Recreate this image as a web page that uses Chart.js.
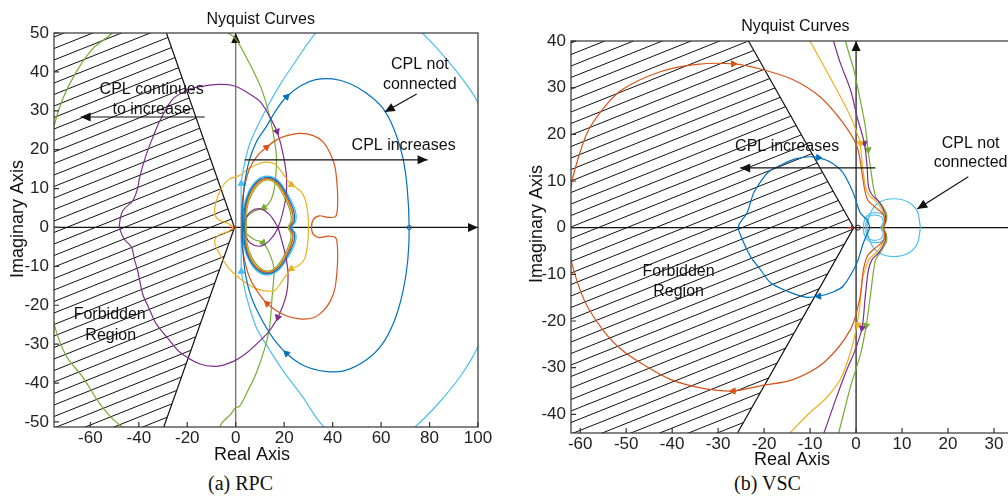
<!DOCTYPE html>
<html>
<head>
<meta charset="utf-8">
<script src="https://cdn.jsdelivr.net/npm/chart.js@4.4.0/dist/chart.umd.min.js"></script>
<style>
  html, body { margin: 0; padding: 0; background: #fff; overflow: hidden; width: 1008px; height: 502px; }
  #wrapA { position: absolute; left: 0; top: 0; width: 500px; height: 470px; }
  #wrapB { position: absolute; left: 520px; top: 0; width: 540px; height: 470px; }
  .cap { position: absolute; top: 472px; line-height: 24px; font: 20px 'Liberation Serif', 'Times New Roman', serif; color: #111; }
</style>
</head>
<body>
<div id="wrapA"><canvas id="rpc"></canvas></div>
<div id="wrapB"><canvas id="vsc"></canvas></div>
<div class="cap" style="left:208px">(a) RPC</div>
<div class="cap" style="left:734px">(b) VSC</div>

<script>
var FONT = "'Liberation Sans', Arial, Helvetica, sans-serif";
var C = { blue: '#0072BD', orange: '#D95319', yellow: '#EDB120', purple: '#7E2F8E', green: '#77AC30', cyan: '#4DBEEE' };

// ---------- (a) RPC ----------
var rpcXTicks = [-60, -40, -20, 0, 20, 40, 60, 80, 100];
var rpcYTicks = [-50, -40, -30, -20, -10, 0, 10, 20, 30, 40, 50];

var rpcBlue = [[2.8,0],[3,6],[3.6,11],[5.5,17],[8.5,22],[12.7,26],[16.5,30],[21,33.6],[27,36.5],[33,38],[40,38.2],[47,37],[54,34.5],[60.8,30.6],[65.5,25],[69,17.9],[70.8,10],[71.6,0],[71,-8.5],[69,-16.5],[65.5,-24],[60.5,-30],[54,-34],[45,-36.8],[36.8,-37],[28,-35.5],[21,-32.4],[15.5,-28.5],[11,-24],[6.5,-18],[4,-12],[3,-6],[2.8,0]];
var rpcOrange = [[2.3,0],[2.4,4.3],[3.5,10],[5.8,15.3],[9,18.5],[12.7,20.6],[16,22.2],[19.5,23.3],[26.4,24.2],[32,23.6],[36,22],[39,19],[41,15.5],[42,9.4],[42,5],[41.2,2.8],[38,2.6],[34.5,3],[32,2],[31.3,0],[32,-1.8],[34.5,-2.6],[38,-2.2],[41.2,-2.6],[42,-5],[42,-9.4],[41,-15.5],[39,-19],[36,-21.5],[32,-23.2],[26.4,-23.5],[20,-22.5],[13,-19.6],[9,-16.5],[5.8,-13],[3.5,-8],[2.4,-3.5],[2.3,0]];
var rpcYellow = [[-1,0],[-3,1],[-7.4,2.1],[-8.7,3.9],[-8,6.9],[-6,10],[-3,12.3],[1.6,13.4],[5,15],[8,16],[12,16.8],[16,16.4],[19.5,13.8],[23,11],[26.5,9.5],[28.5,7.5],[29.8,3.5],[30,0],[29.8,-3.5],[28.5,-8],[26,-9.8],[23,-10.6],[19.5,-13.5],[16,-16.2],[12,-16.3],[8,-15.6],[3.7,-14],[0.3,-12.4],[-3.5,-10],[-6.6,-6.9],[-8.7,-3.9],[-7.4,-2.1],[-3,-1],[-1,0]];
var rpcPurple = [[17.5,0],[20.5,-7],[21.6,-12],[20.8,-17.5],[17.4,-23.1],[14,-26.5],[11,-28.5],[5,-32],[-1.2,-34.5],[-8,-35.7],[-14.8,-35.1],[-23,-32.1],[-28,-28.5],[-32.8,-24.8],[-36,-20.5],[-38.4,-17.1],[-40.5,-11],[-41.7,-8.5],[-43,-5.1],[-46,-3],[-47.5,-1],[-48,0.8],[-46.6,4.3],[-42.5,6.9],[-40.5,10],[-39.7,12.8],[-37,18.6],[-34,23.5],[-31.4,27.3],[-26,33],[-20,35.3],[-14.9,36.2],[-7,36.8],[-1.2,36.5],[4,35],[10,32.4],[14,28.5],[17,24.7],[19.5,19],[21,12.8],[20.5,7],[17.5,0],[14,-3.3],[10,-4.8],[6,-4],[4,-2],[3.3,0],[4,2],[6,4],[10,4.8],[14,3.3],[17.5,0]];
var rpcGreen = [[3.2,0.5],[4.4,2.6],[8,4.3],[11.7,5.1],[14.5,7],[16,10.3],[16.8,18],[15.4,24.6],[13,31],[10,36.6],[5,43],[0,48.5],[-3.8,50.4],[-8,54],[-20,60],[-40,58],[-51,50],[-59,46],[-65.8,40],[-71.3,33.2],[-75,26],[-79,13],[-80,0],[-79,-12],[-75,-24.7],[-70,-33],[-63,-38.6],[-56,-45.4],[-48.8,-50.3],[-35,-56],[-20,-57],[-8,-53],[-5.6,-50.2],[-2,-48],[0,-46.3],[1.6,-46],[5,-42],[8.5,-37.4],[12,-31],[14,-25.5],[15,-18],[15.8,-11],[14.5,-7.5],[11.3,-3.9],[8,-3.2],[3.7,-1.3],[3.2,-0.5]];
var rpcCyan = [[2.3,0],[2.3,11.3],[3,14.5],[5.5,21],[9.2,26.3],[13.5,31.5],[18.2,36.6],[25,43],[33.3,50.2],[44,56],[56,58],[67,55.5],[77,50],[86,44],[95,37],[100,32],[106,20],[108,0],[106,-20],[100,-30.6],[93,-38],[84,-45],[74,-51.3],[62,-57],[50,-58],[36,-51],[27,-43],[19.5,-36.8],[13,-30.5],[8.5,-25.7],[4.5,-18],[2.8,-13],[2.3,-11.3],[2.3,0]];

var rpcLoopCyan = [[3,0],[3.3,5],[5.3,9.2],[9,12.3],[13.5,13.2],[18,11.8],[21.7,8.3],[24.6,4.3],[24.8,1.6],[23,0],[24.8,-1.6],[24.6,-3.8],[21.7,-7.6],[18,-10.8],[13.5,-12.2],[9,-11.3],[5.3,-8.3],[3.3,-4.5],[3,0]];
var rpcLoopBlue = [[3.4,0],[3.7,5],[5.6,9],[9.2,12],[13.5,12.9],[17.8,11.5],[21.3,8.1],[24,4.2],[24.2,1.6],[22.6,0],[24.2,-1.6],[24,-3.7],[21.3,-7.4],[17.8,-10.5],[13.5,-11.9],[9.2,-11],[5.6,-8.1],[3.7,-4.4],[3.4,0]];
var rpcLoopOrange = [[3.8,0],[4.1,5],[5.9,8.8],[9.4,11.7],[13.5,12.6],[17.6,11.2],[20.9,7.9],[23.4,4.1],[23.6,1.6],[22.2,0],[23.6,-1.6],[23.4,-3.6],[20.9,-7.2],[17.6,-10.2],[13.5,-11.6],[9.4,-10.7],[5.9,-7.9],[4.1,-4.3],[3.8,0]];
var rpcLoopYellow = [[4.1,0],[4.4,5],[6.2,8.6],[9.6,11.5],[13.5,12.4],[17.4,11],[20.6,7.7],[23,4],[23.2,1.6],[21.9,0],[23.2,-1.6],[23,-3.5],[20.6,-7],[17.4,-10],[13.5,-11.4],[9.6,-10.5],[6.2,-7.7],[4.4,-4.2],[4.1,0]];
var rpcLoopGreen = [[4.4,0],[4.7,5],[6.5,8.4],[9.8,11.3],[13.5,12.2],[17.2,10.8],[20.3,7.5],[22.6,3.9],[22.8,1.6],[21.6,0],[22.8,-1.6],[22.6,-3.4],[20.3,-6.8],[17.2,-9.8],[13.5,-11.2],[9.8,-10.3],[6.5,-7.5],[4.7,-4.1],[4.4,0]];

var rpcHeadsBlue = [[21,33.6],[21,-32.4]];
var rpcHeadsOrange = [[12.7,20.6],[13,-19.6]];
var rpcHeadsCyan = [[2.3,11.3],[2.3,-11.3]];
var rpcHeadsYellow = [[23,11],[23,-10.6]];
var rpcHeadsPurple = [[17,24.7],[17.4,-23.1]];
var rpcHeadsGreen = [[11.7,5.1],[11.3,-3.9]];
var rpcZeroBlue = [[71.6,0]];
var rpcZeroCyan = [[23,0]];
var critical = [[-1,0]];

var rpcForbidden = [[-75,50],[-28.6,50],[-0.5,0],[-29.7,-51.3],[-75,-51.3]];

// ---------- (b) VSC ----------
var vscXTicks = [-60, -50, -40, -30, -20, -10, 0, 10, 20, 30];
var vscYTicks = [-40, -30, -20, -10, 0, 10, 20, 30, 40];

var vscOrange = [[6,0],[6.2,1.5],[5.8,3],[4,4.5],[2.5,6],[1.8,8.5],[1.3,11.7],[0.2,17.4],[-2.8,22.4],[-7.8,28],[-13.7,31.7],[-20.8,34],[-26.7,35.1],[-34.6,35],[-42.6,33.4],[-51,29.5],[-55,25.5],[-58.5,20.3],[-61,13],[-62,8.8],[-63,0],[-62,-6.8],[-60.5,-12],[-58.5,-16.8],[-55,-22],[-51.2,-26],[-46,-29.5],[-40.4,-32.5],[-33,-34.5],[-26.7,-35],[-20.8,-33.9],[-13.6,-32.5],[-7,-28.9],[-1.2,-21.8],[0.9,-14.7],[1.6,-9],[2.5,-6],[4,-4.5],[5.8,-3],[6.2,-1.5],[6,0]];
var vscBlue = [[3,0],[2.5,1.5],[0.9,3.2],[-0.6,7.4],[-2.8,11.7],[-5.5,14],[-8.2,15],[-9.9,15.2],[-13,14.8],[-16,13.6],[-19,12],[-21,9.5],[-22.3,7.4],[-23.7,3.2],[-25.6,0.3],[-25,-1.9],[-23,-6.1],[-20.8,-9],[-18.6,-11.8],[-15,-13.6],[-11,-14.9],[-8.1,-14.7],[-5,-13.8],[-2.8,-12.5],[0.2,-7.5],[1.5,-3.5],[3,0]];
var vscYellow = [[-12,44],[-10,40],[-7.5,35.5],[-5,31],[-3,27.3],[-1.2,23.8],[0.3,20],[0.9,18.1],[1.3,14],[1.6,11.7],[2,9],[2.8,7],[4.5,5.5],[6,3],[6.2,1.5],[5.8,0],[6.2,-1.5],[6,-3],[4.5,-5.2],[2.8,-6.8],[2,-9],[1.3,-11.1],[0.8,-17],[0.2,-20.7],[-1,-26],[-3.4,-32.5],[-6.5,-36.5],[-10,-39.6],[-14.3,-43.9],[-16,-46]];
var vscPurple = [[-6,44],[-4.9,40],[-3.4,35.2],[-1.2,29.5],[0.2,23.8],[1.8,18.1],[2.4,13],[2.7,8.8],[3.5,7],[5,5.5],[6.3,3],[6.4,1.5],[5.9,0],[6.4,-1.5],[6.3,-3],[5,-5.3],[3.5,-6.8],[2.7,-9],[2,-14.7],[1.3,-21.5],[-0.3,-26.5],[-2,-30.4],[-4.5,-37],[-7,-44],[-8,-46]];
var vscGreen = [[-3,44],[-2.3,40],[-0.5,33.8],[0.9,27.4],[2,21.7],[2.6,16.7],[3.1,13.1],[4.2,6.7],[5.5,5],[6.6,3],[6.6,1.5],[6,0],[6.6,-1.5],[6.6,-3],[5.5,-5],[4.2,-7],[3.1,-14.7],[2.2,-21],[1,-27],[-1.2,-34],[-2.5,-39],[-3.8,-44],[-4.5,-46]];
var vscCyan = [[14,0],[13.3,3.5],[11.3,5.5],[8.2,6.2],[5.2,5.5],[3.3,3.5],[2.4,0],[3.3,-3.5],[5.2,-5.5],[8.2,-6.2],[11.3,-5.5],[13.3,-3.5],[14,0]];
var vscKidney1 = [[5.6,0],[6.4,1.4],[6,2.7],[4.5,3.2],[2.9,2.9],[1.9,1.8],[1.6,0],[1.9,-1.8],[2.9,-2.9],[4.5,-3.2],[6,-2.7],[6.4,-1.4],[5.6,0]];
var vscKidney2 = [[5.3,0],[5.9,1.2],[5.5,2.3],[4.3,2.7],[3,2.5],[2.3,1.5],[2.1,0],[2.3,-1.5],[3,-2.5],[4.3,-2.7],[5.5,-2.3],[5.9,-1.2],[5.3,0]];

var vscHeadsOrange = [[-26.7,35.1],[-26.7,-35]];
var vscHeadsBlue = [[-8.2,15],[-8.1,-14.7]];
var vscHeadsYellow = [[0.9,18.1],[0.4,-20.8]];
var vscHeadsPurple = [[1.8,18.1],[1.3,-21.5]];
var vscHeadsGreen = [[2.6,16.7],[2.2,-21]];
var vscOrigin = [[0.4,0]];

var vscForbidden = [[-62,40],[-23.4,40],[-0.5,0],[-25.8,-44],[-62,-44]];

// ---------- helpers ----------
function xy(pts) { return pts.map(function (p) { return { x: p[0], y: p[1] }; }); }

function curve(pts, color) {
  return { data: xy(pts), showLine: true, borderColor: color, borderWidth: 1.2,
           pointRadius: 0, tension: 0.3, fill: false };
}
function heads(pts, rot, color) {
  return { data: xy(pts), showLine: false, pointStyle: 'triangle', pointRadius: 3.6,
           pointRotation: rot, backgroundColor: color, borderColor: color, borderWidth: 1 };
}
function dots(pts, color, style, r) {
  return { data: xy(pts), showLine: false, pointStyle: style, pointRadius: r,
           backgroundColor: 'rgba(0,0,0,0)', borderColor: color, borderWidth: 1 };
}

function arrowHead(ctx, x1, y1, x2, y2, len, half) {
  var a = Math.atan2(y2 - y1, x2 - x1);
  ctx.beginPath();
  ctx.moveTo(x2, y2);
  ctx.lineTo(x2 - len * Math.cos(a) + half * Math.sin(a), y2 - len * Math.sin(a) - half * Math.cos(a));
  ctx.lineTo(x2 - len * Math.cos(a) - half * Math.sin(a), y2 - len * Math.sin(a) + half * Math.cos(a));
  ctx.closePath();
  ctx.fill();
}
function arrow(ctx, x1, y1, x2, y2) {
  ctx.beginPath(); ctx.moveTo(x1, y1); ctx.lineTo(x2, y2); ctx.stroke();
  arrowHead(ctx, x1, y1, x2, y2, 10, 4.5);
}

function deco(cfg) {
  return {
    id: 'deco',
    beforeDatasetsDraw: function (chart) {
      var ctx = chart.ctx, a = chart.chartArea, sx = chart.scales.x, sy = chart.scales.y;
      function X(v) { return sx.getPixelForValue(v); }
      function Y(v) { return sy.getPixelForValue(v); }
      var f = cfg.forbidden;
      ctx.save();
      ctx.beginPath(); ctx.rect(a.left, a.top, a.right - a.left, a.bottom - a.top); ctx.clip();
      // hatching of the forbidden region
      ctx.save();
      ctx.beginPath();
      f.forEach(function (p, i) { if (i) ctx.lineTo(X(p[0]), Y(p[1])); else ctx.moveTo(X(p[0]), Y(p[1])); });
      ctx.closePath(); ctx.clip();
      var w = a.right - a.left;
      ctx.beginPath();
      for (var c = a.top + cfg.phase; c < a.bottom + 0.4 * w + 12; c += 11.5) {
        ctx.moveTo(a.left, c); ctx.lineTo(a.right, c - 0.4 * w);
      }
      ctx.strokeStyle = '#111'; ctx.lineWidth = 1; ctx.stroke();
      ctx.restore();
      ctx.beginPath();
      ctx.moveTo(X(f[1][0]), Y(f[1][1])); ctx.lineTo(X(f[2][0]), Y(f[2][1])); ctx.lineTo(X(f[3][0]), Y(f[3][1]));
      ctx.strokeStyle = '#111'; ctx.lineWidth = 1.2; ctx.stroke();
      // axes through the origin
      var x0 = X(0), y0 = Y(0);
      ctx.strokeStyle = '#111'; ctx.fillStyle = '#111'; ctx.lineWidth = 1.2;
      ctx.beginPath(); ctx.moveTo(a.left, y0); ctx.lineTo(a.right, y0); ctx.stroke();
      if (cfg.realArrow) arrowHead(ctx, a.left, y0, a.right, y0, 10, 4.5);
      ctx.strokeStyle = cfg.imagColor;
      ctx.beginPath(); ctx.moveTo(x0, a.bottom); ctx.lineTo(x0, a.top); ctx.stroke();
      ctx.fillStyle = '#111';
      arrowHead(ctx, x0, a.bottom, x0, a.top, 10, 4.5);
      ctx.restore();
    },
    afterDatasetsDraw: function (chart) {
      var ctx = chart.ctx, a = chart.chartArea, sx = chart.scales.x, sy = chart.scales.y;
      function X(v) { return sx.getPixelForValue(v); }
      function Y(v) { return sy.getPixelForValue(v); }
      ctx.save();
      // box and inward ticks
      ctx.strokeStyle = '#333'; ctx.lineWidth = 1.2;
      ctx.strokeRect(a.left, a.top, a.right - a.left, a.bottom - a.top);
      ctx.beginPath();
      cfg.xTicks.forEach(function (v) { ctx.moveTo(X(v), a.bottom); ctx.lineTo(X(v), a.bottom - 5); });
      cfg.yTicks.forEach(function (v) { ctx.moveTo(a.left, Y(v)); ctx.lineTo(a.left + 5, Y(v)); });
      ctx.stroke();
      // notes
      ctx.fillStyle = '#111'; ctx.textAlign = 'center'; ctx.textBaseline = 'middle';
      ctx.font = '16px ' + FONT;
      cfg.notes.forEach(function (n) { ctx.fillText(n.t, X(n.x), Y(n.y)); });
      ctx.strokeStyle = '#111'; ctx.lineWidth = 1.2;
      cfg.pointers.forEach(function (p) { arrow(ctx, X(p.from[0]), Y(p.from[1]), X(p.to[0]), Y(p.to[1])); });
      // axis titles
      ctx.font = '18px ' + FONT;
      ctx.fillText('Real Axis', cfg.realPos[0], cfg.realPos[1]);
      ctx.translate(cfg.imagPos[0], cfg.imagPos[1]);
      ctx.rotate(-Math.PI / 2);
      ctx.fillText('Imaginary Axis', 0, 0);
      ctx.restore();
    }
  };
}

function makeChart(id, sets, xr, yr, xt, yt, pad, yW, xH, plug) {
  var tickFont = { family: FONT, size: 17 };
  return new Chart(document.getElementById(id), {
    type: 'scatter',
    data: { datasets: sets },
    options: {
      animation: false, responsive: true, maintainAspectRatio: false,
      layout: { padding: pad },
      elements: { line: { capBezierPoints: false } },
      plugins: { legend: { display: false }, tooltip: { enabled: false } },
      scales: {
        x: {
          type: 'linear', min: xr[0], max: xr[1],
          afterBuildTicks: function (s) { s.ticks = xt.map(function (v) { return { value: v }; }); },
          afterFit: function (s) { s.height = xH; },
          grid: { display: false, drawTicks: false }, border: { display: false },
          ticks: { font: tickFont, color: '#222', padding: 1, maxRotation: 0, autoSkip: false }
        },
        y: {
          type: 'linear', min: yr[0], max: yr[1],
          afterBuildTicks: function (s) { s.ticks = yt.map(function (v) { return { value: v }; }); },
          afterFit: function (s) { s.width = yW; },
          grid: { display: false, drawTicks: false }, border: { display: false },
          ticks: { font: tickFont, color: '#222', padding: 5, autoSkip: false }
        }
      }
    },
    plugins: [plug]
  });
}

document.addEventListener('DOMContentLoaded', function () {
  var rpcSets = [
    curve(rpcBlue, C.blue), curve(rpcLoopBlue, C.blue),
    curve(rpcOrange, C.orange), curve(rpcLoopOrange, C.orange),
    curve(rpcYellow, C.yellow), curve(rpcLoopYellow, C.yellow),
    curve(rpcPurple, C.purple),
    curve(rpcGreen, C.green), curve(rpcLoopGreen, C.green),
    curve(rpcCyan, C.cyan), curve(rpcLoopCyan, C.cyan),
    heads(rpcHeadsBlue, [44, -47], C.blue),
    heads(rpcHeadsOrange, [50, -49], C.orange),
    heads(rpcHeadsCyan, [0, 0], C.cyan),
    heads(rpcHeadsYellow, [120, -120], C.yellow),
    heads(rpcHeadsPurple, [160, -160], C.purple),
    heads(rpcHeadsGreen, [-124, 137], C.green),
    dots(rpcZeroBlue, C.blue, 'circle', 2.2),
    dots(rpcZeroCyan, C.cyan, 'circle', 2.2),
    dots(critical, '#ff0000', 'cross', 3)
  ];
  makeChart('rpc', rpcSets, [-75, 100], [-51.3, 50], rpcXTicks, rpcYTicks,
    { top: 33, right: 22, left: 0, bottom: 0 }, 54, 43,
    deco({
      forbidden: rpcForbidden, phase: 4, realArrow: true, imagColor: '#666',
      xTicks: rpcXTicks, yTicks: rpcYTicks,
      notes: [
        { t: 'Nyquist Curves', x: 10.3, y: 53.4 },
        { t: 'CPL continues', x: -34.7, y: 35.4 },
        { t: 'to increase', x: -34.7, y: 30.2 },
        { t: 'CPL not', x: 76, y: 41.8 },
        { t: 'connected', x: 76, y: 36.7 },
        { t: 'CPL increases', x: 69.3, y: 21 },
        { t: 'Forbidden', x: -52, y: -22.5 },
        { t: 'Region', x: -51.6, y: -27.8 }
      ],
      pointers: [
        { from: [-12.8, 28.4], to: [-64, 28.4] },
        { from: [74.7, 34.3], to: [61.5, 29.7] },
        { from: [3.7, 17.4], to: [79.2, 17.4] }
      ],
      realPos: [252, 455], imagPos: [18, 219]
    }));

  var vscSets = [
    curve(vscBlue, C.blue),
    curve(vscOrange, C.orange),
    curve(vscYellow, C.yellow),
    curve(vscPurple, C.purple),
    curve(vscGreen, C.green),
    curve(vscCyan, C.cyan), curve(vscKidney1, C.cyan), curve(vscKidney2, C.cyan),
    heads(vscHeadsOrange, [90, -90], C.orange),
    heads(vscHeadsBlue, [95, -95], C.blue),
    heads(vscHeadsYellow, [171, 191], C.yellow),
    heads(vscHeadsPurple, [172, 190], C.purple),
    heads(vscHeadsGreen, [174, 190], C.green),
    dots(vscOrigin, '#222', 'circle', 2.5),
    dots(critical, '#ff0000', 'cross', 3)
  ];
  makeChart('vsc', vscSets, [-62, 40], [-44, 40], vscXTicks, vscYTicks,
    { top: 41, right: 20, left: 0, bottom: 0 }, 51, 37,
    deco({
      forbidden: vscForbidden, phase: 2, realArrow: false, imagColor: '#111',
      xTicks: vscXTicks, yTicks: vscYTicks,
      notes: [
        { t: 'Nyquist Curves', x: -13.2, y: 43 },
        { t: 'CPL increases', x: -15, y: 17.3 },
        { t: 'CPL not', x: 24.9, y: 18.1 },
        { t: 'connected', x: 24.9, y: 13.9 },
        { t: 'Forbidden', x: -38.6, y: -9.5 },
        { t: 'Region', x: -38.6, y: -13.8 }
      ],
      pointers: [
        { from: [4.2, 12.8], to: [-25.2, 12.8] },
        { from: [24.4, 10.9], to: [13.3, 4] }
      ],
      realPos: [272, 460], imagPos: [17, 224]
    }));
});
</script>
</body>
</html>
